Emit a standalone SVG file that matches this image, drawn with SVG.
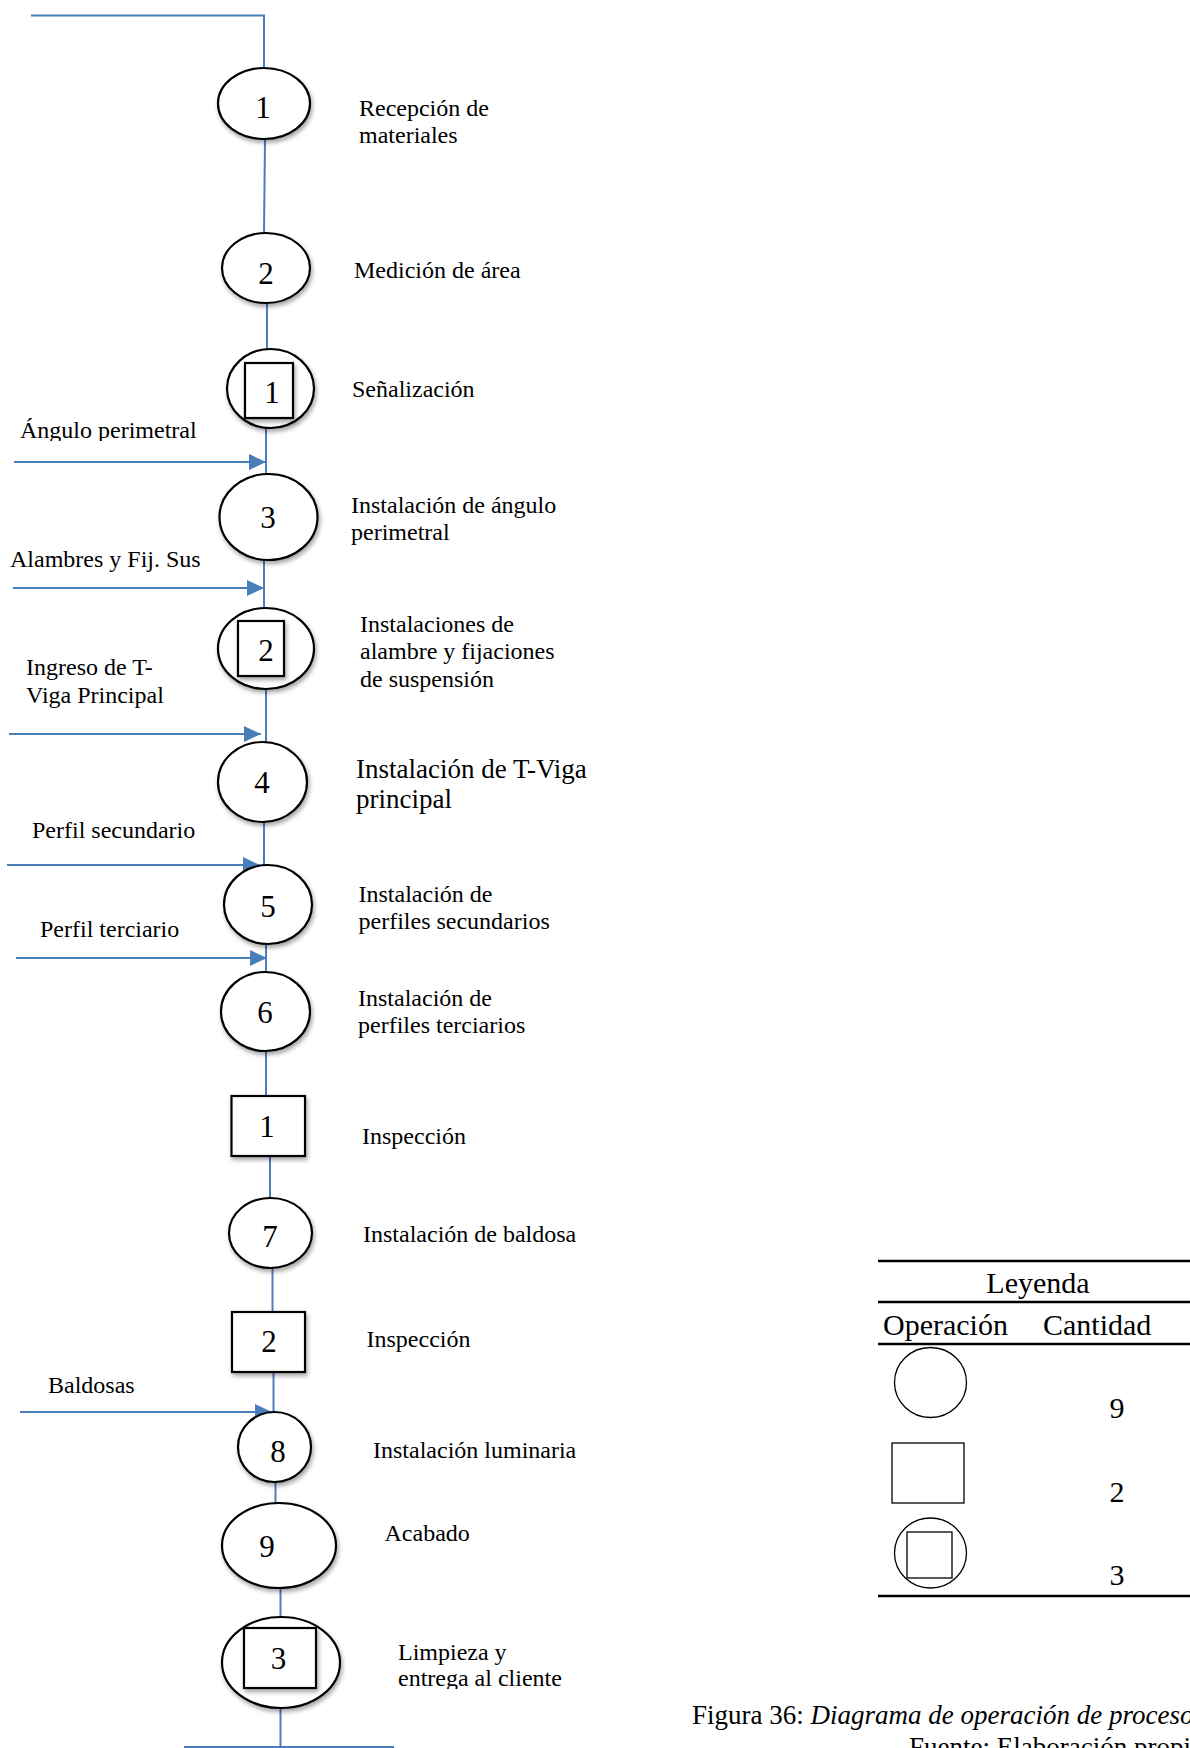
<svg xmlns="http://www.w3.org/2000/svg" width="1190" height="1748" viewBox="0 0 1190 1748">
<defs>
<marker id="arr" markerUnits="userSpaceOnUse" markerWidth="17" markerHeight="16" viewBox="0 0 16 15" refX="16" refY="7.5" orient="auto"><path d="M0,0 L16,7.5 L0,15 z" fill="#4a7ebb"/></marker>
<filter id="sh" x="-20%" y="-20%" width="150%" height="150%"><feDropShadow dx="1.5" dy="3" stdDeviation="2" flood-color="#000" flood-opacity="0.35"/></filter>
<clipPath id="c1"><rect x="0" y="380" width="300" height="61"/></clipPath>
<clipPath id="c2"><rect x="380" y="1630" width="320" height="59"/></clipPath>
</defs>
<style>
.ln{stroke:#4a7ebb;stroke-width:2;fill:none}
.ar{stroke:#4a7ebb;stroke-width:2;fill:none;marker-end:url(#arr)}
.sh{fill:#fff;stroke:#000;stroke-width:2.2;filter:url(#sh)}
.lg{fill:#fff;stroke:#000;stroke-width:1.3}
.tl{stroke:#000;stroke-width:2.5}
text{font-family:"Liberation Serif","Times New Roman",serif;fill:#000}
.nb{font-size:31px;text-anchor:middle}
.lb{font-size:24px}
.lb2{font-size:27px}
.lt{font-size:30px}
.cp{font-size:27px}
</style>
<rect width="1190" height="1748" fill="#fff"/>
<g id="connectors">
<polyline class="ln" points="31,15.5 264,15.5 264,68"/>
<line class="ln" x1="265" y1="139" x2="264" y2="233"/>
<line class="ln" x1="267" y1="303" x2="267" y2="349"/>
<line class="ln" x1="266" y1="428" x2="266" y2="474"/>
<line class="ln" x1="264" y1="560" x2="264" y2="608"/>
<line class="ln" x1="266" y1="689" x2="266" y2="742"/>
<line class="ln" x1="264" y1="822" x2="264" y2="865"/>
<line class="ln" x1="266" y1="944" x2="266" y2="972"/>
<line class="ln" x1="266" y1="1051" x2="266" y2="1096"/>
<line class="ln" x1="270" y1="1156" x2="270" y2="1198"/>
<line class="ln" x1="272.5" y1="1268" x2="272.5" y2="1312"/>
<line class="ln" x1="273.5" y1="1372" x2="273.5" y2="1412"/>
<line class="ln" x1="275.5" y1="1482" x2="275.5" y2="1503"/>
<line class="ln" x1="280.5" y1="1588" x2="280.5" y2="1617"/>
<line class="ln" x1="280.5" y1="1706" x2="280.5" y2="1747"/>
<line class="ln" x1="184" y1="1747" x2="394" y2="1747"/>
<line class="ar" x1="14" y1="462" x2="266" y2="462"/>
<line class="ar" x1="13" y1="588" x2="264" y2="588"/>
<line class="ar" x1="9" y1="734" x2="261" y2="734"/>
<line class="ar" x1="7" y1="865" x2="260" y2="865"/>
<line class="ar" x1="16" y1="958" x2="267" y2="958"/>
<line class="ar" x1="20" y1="1412" x2="272" y2="1412"/>
<text class="lb" x="20" y="438" clip-path="url(#c1)">Ángulo perimetral</text>
<text class="lb" x="10" y="567">Alambres y Fij. Sus</text>
<text class="lb" x="26" y="675">Ingreso de T-</text>
<text class="lb" x="26" y="703">Viga Principal</text>
<text class="lb" x="32" y="838">Perfil secundario</text>
<text class="lb" x="40" y="937">Perfil terciario</text>
<text class="lb" x="48" y="1393">Baldosas</text>
</g>
<g id="op1">
<ellipse class="sh" cx="264" cy="103.5" rx="46" ry="35.5"/>
<text class="nb" x="263" y="118">1</text>
<text class="lb" x="359" y="116">Recepción de</text>
<text class="lb" x="359" y="143">materiales</text>
</g>
<g id="op2">
<ellipse class="sh" cx="266" cy="268" rx="44" ry="35"/>
<text class="nb" x="266" y="284">2</text>
<text class="lb" x="354" y="278">Medición de área</text>
</g>
<g id="comb1">
<ellipse class="sh" cx="270.5" cy="388.5" rx="43.5" ry="39.5"/>
<rect class="sh" x="245" y="363" width="48" height="55"/>
<text class="nb" x="272" y="403">1</text>
<text class="lb" x="352" y="397">Señalización</text>
</g>
<g id="op3">
<ellipse class="sh" cx="268.5" cy="517" rx="49" ry="43"/>
<text class="nb" x="268" y="528">3</text>
<text class="lb" x="351" y="513">Instalación de ángulo</text>
<text class="lb" x="351" y="540">perimetral</text>
</g>
<g id="comb2">
<ellipse class="sh" cx="266" cy="648.5" rx="48" ry="40.5"/>
<rect class="sh" x="238" y="621" width="46" height="55"/>
<text class="nb" x="266" y="661">2</text>
<text class="lb" x="360" y="632">Instalaciones de</text>
<text class="lb" x="360" y="659">alambre y fijaciones</text>
<text class="lb" x="360" y="687">de suspensión</text>
</g>
<g id="op4">
<ellipse class="sh" cx="262.5" cy="782" rx="44.5" ry="40"/>
<text class="nb" x="262" y="793">4</text>
<text class="lb2" x="356" y="778">Instalación de T-Viga</text>
<text class="lb2" x="356" y="808">principal</text>
</g>
<g id="op5">
<ellipse class="sh" cx="268" cy="904.5" rx="44" ry="39.5"/>
<text class="nb" x="268" y="917">5</text>
<text class="lb" x="358.5" y="902">Instalación de</text>
<text class="lb" x="358.5" y="929">perfiles secundarios</text>
</g>
<g id="op6">
<ellipse class="sh" cx="265.5" cy="1011.5" rx="44.5" ry="39.5"/>
<text class="nb" x="265" y="1023">6</text>
<text class="lb" x="358" y="1006">Instalación de</text>
<text class="lb" x="358" y="1033">perfiles terciarios</text>
</g>
<g id="insp1">
<rect class="sh" x="231.5" y="1096" width="73.5" height="60"/>
<text class="nb" x="267" y="1137">1</text>
<text class="lb" x="362" y="1144">Inspección</text>
</g>
<g id="op7">
<ellipse class="sh" cx="270.5" cy="1233" rx="41.5" ry="35"/>
<text class="nb" x="270" y="1247">7</text>
<text class="lb" x="363" y="1242">Instalación de baldosa</text>
</g>
<g id="insp2">
<rect class="sh" x="232" y="1312" width="73" height="60"/>
<text class="nb" x="269" y="1352">2</text>
<text class="lb" x="366.5" y="1347">Inspección</text>
</g>
<g id="op8">
<ellipse class="sh" cx="274.5" cy="1447" rx="36.5" ry="35"/>
<text class="nb" x="278" y="1462">8</text>
<text class="lb" x="373" y="1458">Instalación luminaria</text>
</g>
<g id="op9">
<ellipse class="sh" cx="279" cy="1545.5" rx="57" ry="42.5"/>
<text class="nb" x="267" y="1557">9</text>
<text class="lb" x="384.5" y="1541">Acabado</text>
</g>
<g id="comb3">
<ellipse class="sh" cx="281" cy="1662.5" rx="59" ry="45.5"/>
<rect class="sh" x="244" y="1628" width="72" height="60"/>
<text class="nb" x="278.5" y="1669">3</text>
<text class="lb" x="398" y="1660">Limpieza y</text>
<text class="lb" x="398" y="1686" clip-path="url(#c2)">entrega al cliente</text>
</g>
<g id="legend">
<line class="tl" x1="878" y1="1261" x2="1190" y2="1261"/>
<line class="tl" x1="878" y1="1302" x2="1190" y2="1302"/>
<line class="tl" x1="878" y1="1344" x2="1190" y2="1344"/>
<line class="tl" x1="878" y1="1596" x2="1190" y2="1596"/>
<text class="lt" x="1038" y="1293" text-anchor="middle">Leyenda</text>
<text class="lt" x="883" y="1335">Operación</text>
<text class="lt" x="1043" y="1335">Cantidad</text>
<ellipse class="lg" cx="930.5" cy="1382.5" rx="36" ry="35"/>
<text class="lt" x="1117" y="1418" text-anchor="middle">9</text>
<rect class="lg" x="892" y="1443" width="72" height="60"/>
<text class="lt" x="1117" y="1502" text-anchor="middle">2</text>
<ellipse class="lg" cx="930.5" cy="1553" rx="36" ry="35"/>
<rect class="lg" x="907" y="1532" width="45" height="46"/>
<text class="lt" x="1117" y="1585" text-anchor="middle">3</text>
</g>
<g id="caption">
<text class="cp" x="692" y="1724">Figura 36: <tspan font-style="italic">Diagrama de operación de proceso.</tspan></text>
<text class="cp" x="909" y="1756">Fuente: Elaboración propia</text>
</g>
</svg>
